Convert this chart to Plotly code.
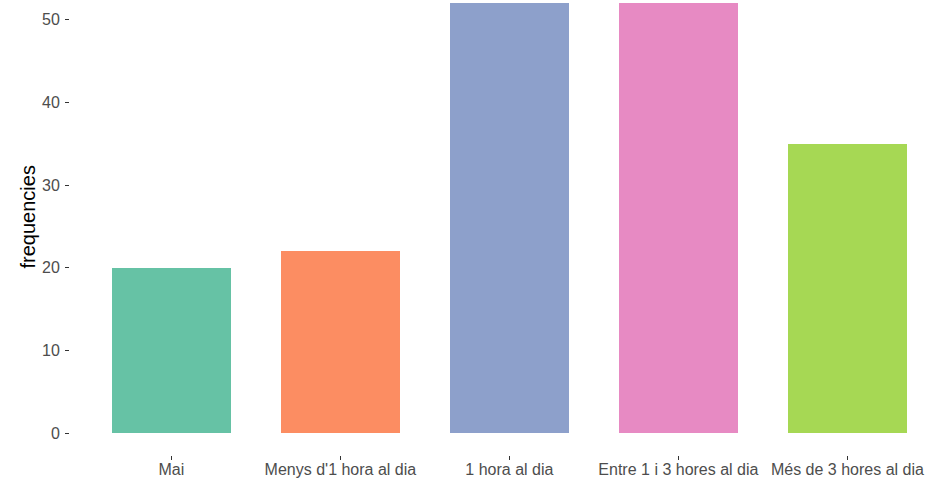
import plotly.graph_objects as go

categories = ["Mai", "Menys d'1 hora al dia", "1 hora al dia", "Entre 1 i 3 hores al dia", "Més de 3 hores al dia"]
values = [20, 22, 52, 52, 35]
colors = ["#66C2A5", "#FC8D62", "#8DA0CB", "#E78AC3", "#A6D854"]
y_ticks = [0, 10, 20, 30, 40, 50]

W, H = 926, 481
ml, mb = 70, 26
plot_w = W - ml
plot_h = H - mb
px_per_cat = 169.0
px_per_unit = 8.28

y_bottom = -2.6
y_top = y_bottom + plot_h / px_per_unit
x_left = -0.6
x_right = x_left + plot_w / px_per_cat

fig = go.Figure()
fig.add_trace(go.Bar(
    x=categories, y=values, marker=dict(color=colors, line=dict(width=0)),
    width=0.7, showlegend=False,
))

fig.update_layout(
    width=W, height=H,
    margin=dict(l=ml, r=0, t=0, b=mb, pad=0),
    paper_bgcolor="white", plot_bgcolor="white",
    font=dict(family="Liberation Sans, Arial, sans-serif", size=16, color="#4D4D4D"),
    bargap=0,
)
fig.update_xaxes(
    range=[x_left, x_right], showgrid=False, zeroline=False, showline=False,
    ticks="outside", ticklen=4, tickwidth=1, tickcolor="#333333",
    tickfont=dict(size=16, color="#4D4D4D"), automargin=False, ticklabelstandoff=-4,
)
fig.update_yaxes(
    range=[y_bottom, y_top], showgrid=False, zeroline=False, showline=False,
    tickvals=y_ticks, ticks="outside", ticklen=4, tickwidth=1, tickcolor="#333333",
    tickfont=dict(size=16, color="#4D4D4D"), automargin=False, ticklabelstandoff=2,
)
fig.add_annotation(
    text="frequencies", textangle=-90, xref="paper", yref="paper",
    x=(27 - ml) / plot_w, y=1 - 217.5 / plot_h, showarrow=False,
    font=dict(size=20, color="black", family="Liberation Sans, Arial, sans-serif"),
    xanchor="center", yanchor="middle",
)

fig.write_html(
    "out.html",
    config={"displayModeBar": False},
    post_script="document.body.style.margin='0';document.body.style.overflow='hidden';",
)
